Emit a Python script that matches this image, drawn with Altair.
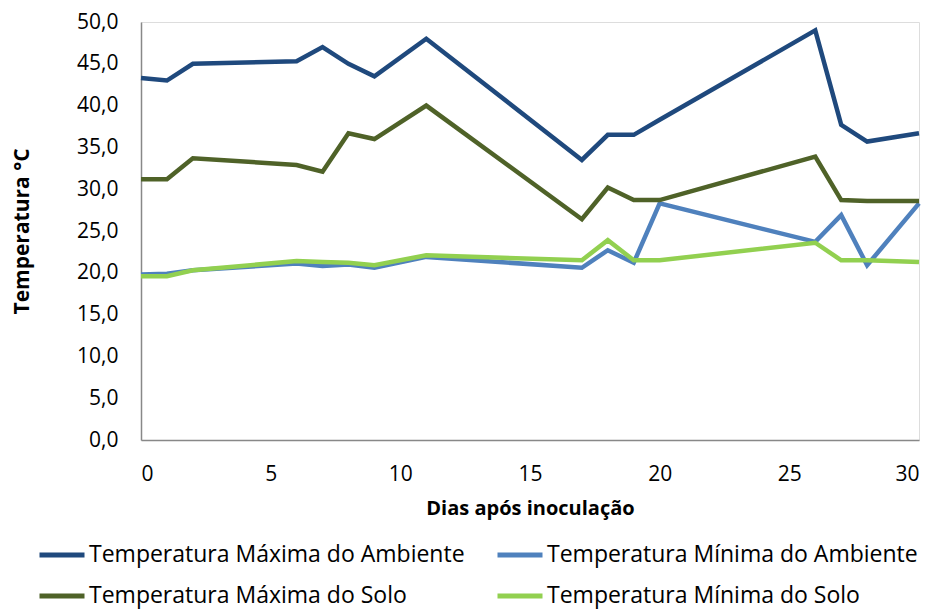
import altair as alt
import pandas as pd

days = [0, 1, 2, 6, 7, 8, 9, 11, 17, 18, 19, 20, 26, 27, 28, 30]
max_amb = [43.3, 43.0, 45.0, 45.3, 47.0, 45.0, 43.5, 48.0, 33.5, 36.5, 36.5, 38.3, 49.0, 37.7, 35.7, 36.7]
min_amb = [19.8, 19.9, 20.3, 21.1, 20.8, 21.0, 20.6, 21.9, 20.6, 22.7, 21.2, 28.3, 23.7, 26.9, 20.9, 28.3]
max_solo = [31.2, 31.2, 33.7, 32.9, 32.1, 36.7, 36.0, 40.0, 26.4, 30.2, 28.7, 28.7, 33.9, 28.7, 28.6, 28.6]
min_solo = [19.6, 19.6, 20.3, 21.4, 21.3, 21.2, 20.9, 22.1, 21.5, 23.9, 21.5, 21.5, 23.6, 21.5, 21.5, 21.3]

series = [
    "Temperatura Máxima do Ambiente",
    "Temperatura Mínima do Ambiente",
    "Temperatura Máxima do Solo",
    "Temperatura Mínima do Solo",
]
colors = ["#1F497D", "#4F81BD", "#4F6228", "#92D050"]

rows = []
for name, vals in zip(series, [max_amb, min_amb, max_solo, min_solo]):
    for i, (d, v) in enumerate(zip(days, vals)):
        rows.append({"dia": d, "temp": v, "serie": name, "ordem": i})
df = pd.DataFrame(rows)

font = "Open Sans"

chart = alt.Chart(df).mark_line(strokeWidth=4.5, strokeJoin="miter").encode(
    x=alt.X("dia:Q", title="Dias após inoculação",
            scale=alt.Scale(domain=[0, 30], nice=False),
            axis=alt.Axis(values=[0, 5, 10, 15, 20, 25, 30], grid=False, ticks=False,
                          domainColor="#888888", domainWidth=1.5,
                          labelFontSize=21, labelPadding=23, labelColor="#000000",
                          titleFontSize=20, titleFontWeight="bold", titlePadding=14,
                          titleColor="#000000")),
    y=alt.Y("temp:Q", title="Temperatura °C",
            scale=alt.Scale(domain=[0, 50], nice=False),
            axis=alt.Axis(values=[0, 5, 10, 15, 20, 25, 30, 35, 40, 45, 50], grid=False, ticks=False,
                          domainColor="#888888", domainWidth=1.5,
                          labelExpr="replace(format(datum.value, '.1f'), '.', ',')",
                          labelFontSize=21, labelPadding=23, labelColor="#000000",
                          titleFontSize=21, titleFontWeight="bold", titlePadding=44,
                          titleColor="#000000")),
    color=alt.Color("serie:N",
                    scale=alt.Scale(domain=series, range=colors),
                    legend=alt.Legend(title=None, orient="none", legendX=-104, legendY=508,
                                      columns=2, direction="horizontal",
                                      symbolType="stroke", symbolStrokeWidth=5,
                                      symbolSize=2025, labelOffset=2,
                                      labelFontSize=23, labelColor="#000000",
                                      labelLimit=600, columnPadding=22, rowPadding=4)),
    order="ordem:Q",
).properties(
    width=778, height=418,
    autosize=alt.AutoSizeParams(type="none"),
    padding={"left": 133, "top": 14, "right": 7, "bottom": 169},
).configure_view(stroke=None).configure(font=font)

chart.save("out.html", embed_options={"renderer": "svg", "actions": False})
